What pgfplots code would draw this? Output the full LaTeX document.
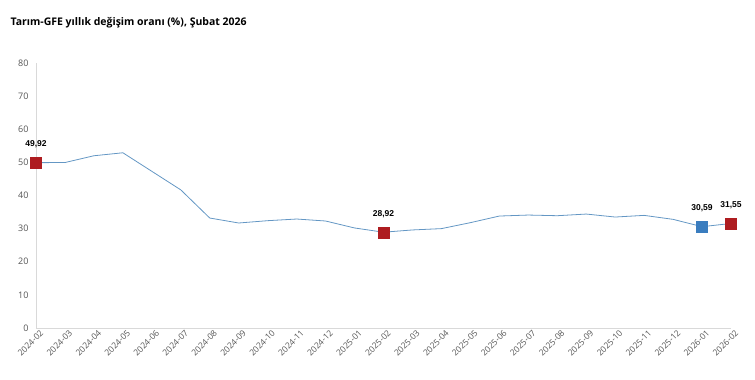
\documentclass[border=0pt]{standalone}
\usepackage{fontspec}
\setmainfont{Liberation Sans}
\newfontfamily\titlefont{Open Sans}
\usepackage{pgfplots}
\pgfplotsset{compat=1.18}
\definecolor{linec}{HTML}{6497C4}
\definecolor{redm}{HTML}{AE1C20}
\definecolor{bluem}{HTML}{3A7DBF}
\definecolor{axc}{HTML}{D9D9D9}
\definecolor{tickc}{HTML}{555555}
\begin{document}
\begin{tikzpicture}[x=1pt,y=1pt]
\useasboundingbox (-36,-52) rectangle (719,328);
\begin{axis}[
  at={(0,0)}, anchor=south west,
  scale only axis, width=695pt, height=265pt,
  xmin=0, xmax=24, ymin=0, ymax=80,
  axis lines=left,
  axis line style={axc, -},
  xtick={0,...,24},
  xticklabels={2024-02,2024-03,2024-04,2024-05,2024-06,2024-07,2024-08,2024-09,2024-10,2024-11,2024-12,2025-01,2025-02,2025-03,2025-04,2025-05,2025-06,2025-07,2025-08,2025-09,2025-10,2025-11,2025-12,2026-01,2026-02},
  x tick label style={rotate=45, anchor=north east, font=\titlefont\fontsize{8.5}{9}\selectfont, text=tickc, inner sep=0.5pt, yshift=-3pt, xshift=2pt},
  ytick={0,10,...,80},
  y tick label style={font=\titlefont\fontsize{9}{10}\selectfont, text=tickc, xshift=-4pt},
  /pgf/number format/assume math mode=true,
  major tick length=0pt,
  clip=false,
]
\addplot[linec, line width=0.8pt, mark=none] coordinates {
(0,49.92)(1,49.95)(2,52.0)(3,52.9)(4,47.3)(5,41.7)(6,33.2)(7,31.7)(8,32.4)(9,32.9)(10,32.3)(11,30.2)(12,28.92)(13,29.6)(14,30.0)(15,31.8)(16,33.8)(17,34.1)(18,33.9)(19,34.4)(20,33.5)(21,34.0)(22,32.8)(23,30.59)(24,31.55)
};
\addplot[only marks, mark=square*, mark size=5.5pt, mark options={fill=redm, draw=redm},
  nodes near coords, point meta=explicit symbolic,
  every node near coord/.append style={font=\bfseries\fontsize{8.5}{10}\selectfont, yshift=11pt}]
  coordinates {(0,49.92)[49,92] (12,28.92)[28,92] (24,31.55)[31,55]};
\addplot[only marks, mark=square*, mark size=5.5pt, mark options={fill=bluem, draw=bluem},
  nodes near coords, point meta=explicit symbolic,
  every node near coord/.append style={font=\bfseries\fontsize{8.5}{10}\selectfont, yshift=11pt}]
  coordinates {(23,30.59)[30,59]};
\end{axis}
\node[anchor=west, font=\titlefont\bfseries\fontsize{10.5}{13}\selectfont] at (-29,305) {Tarım-GFE yıllık değişim oranı (\%), Şubat 2026};
\end{tikzpicture}
\end{document}
